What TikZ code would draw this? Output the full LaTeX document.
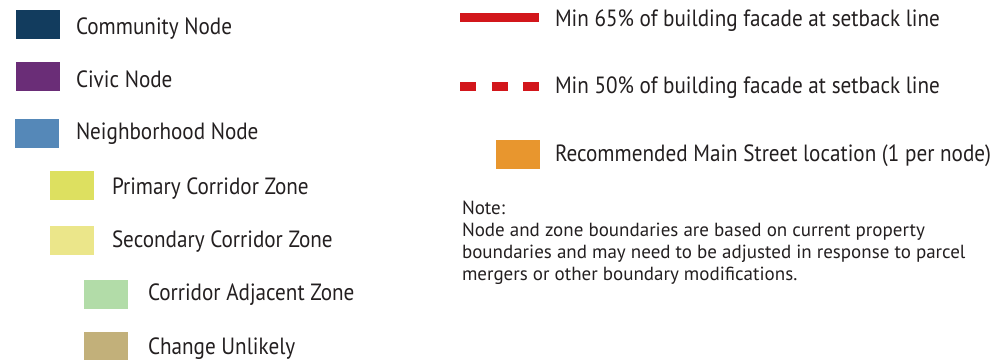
\documentclass[tikz,border=0pt]{standalone}
\usepackage{fontspec}
\setmainfont[FakeStretch=0.90]{PT Sans}
\newfontfamily\notefont{PT Sans}
\definecolor{txt}{HTML}{231F20}
\definecolor{commC}{HTML}{123C5E}
\definecolor{civicC}{HTML}{6A2D77}
\definecolor{neighC}{HTML}{5588B8}
\definecolor{primC}{HTML}{DDE060}
\definecolor{secC}{HTML}{EBE68A}
\definecolor{adjC}{HTML}{B2DCA8}
\definecolor{unlC}{HTML}{C2B07A}
\definecolor{mainC}{HTML}{E8962E}
\definecolor{redC}{HTML}{D2161B}
\begin{document}
\begin{tikzpicture}[x=1pt,y=-1pt,
  swatch/.style={draw=none,minimum width=44pt,minimum height=29pt,inner sep=0pt,outer sep=0pt},
  lbl/.style={anchor=base west,inner sep=0pt,outer sep=0pt,text=txt,font=\fontsize{23.5}{26}\selectfont},
  notetxt/.style={anchor=base west,inner sep=0pt,outer sep=0pt,text=txt,font=\notefont\fontsize{19}{22}\selectfont},
  redline/.style={draw=redC,line width=9pt,line cap=butt}]
\useasboundingbox (0,0) rectangle (996,359);
% left legend
\node[swatch,fill=commC] (comm) at (38,24.5) {};
\node[lbl] (commL) at (76,34) {Community Node};
\node[swatch,fill=civicC] (civic) at (38,76.5) {};
\node[lbl] (civicL) at (76,87) {Civic Node};
\node[swatch,fill=neighC] (neigh) at (37,133.5) {};
\node[lbl] (neighL) at (76,139.3) {Neighborhood Node};
\node[swatch,fill=primC] (prim) at (72,185.5) {};
\node[lbl] (primL) at (112,194) {Primary Corridor Zone};
\node[swatch,fill=secC] (sec) at (72,240.5) {};
\node[lbl] (secL) at (112,247) {Secondary Corridor Zone};
\node[swatch,fill=adjC] (adj) at (106,294.5) {};
\node[lbl] (adjL) at (148,300) {Corridor Adjacent Zone};
\node[swatch,fill=unlC,minimum height=30pt] (unl) at (106,347) {};
\node[lbl] (unlL) at (148,354) {Change Unlikely};
% right legend
\coordinate (s1) at (460,17.5);
\coordinate (s2) at (539,17.5);
\draw[redline] (s1) -- (s2);
\node[lbl] (solidL) at (555,26.5) {Min 65\% of building facade at setback line};
\coordinate (d1) at (460,86.2);
\coordinate (d2) at (539,86.2);
\draw[redline,dash pattern=on 16pt off 15.5pt] (d1) -- (d2);
\node[lbl] (dashL) at (555,93.3) {Min 50\% of building facade at setback line};
\node[swatch,fill=mainC] (main) at (518,154.4) {};
\node[lbl] (mainL) at (555,161.7) {Recommended Main Street location (1 per node)};
\node[notetxt] (note0) at (462,214.5) {Note:};
\node[notetxt] (note1) at (462,236.5) {Node and zone boundaries are based on current property};
\node[notetxt] (note2) at (462,258.5) {boundaries and may need to be adjusted in response to parcel};
\node[notetxt] (note3) at (462,280.5) {mergers or other boundary modifications.};
\end{tikzpicture}
\end{document}
